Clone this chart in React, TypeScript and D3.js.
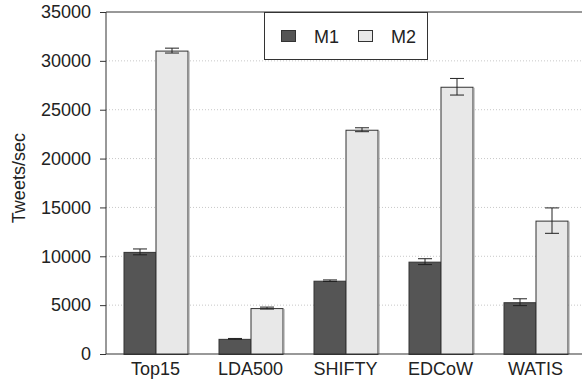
import { useEffect, useRef } from 'react';
import * as d3 from 'd3';

const categories = ['Top15', 'LDA500', 'SHIFTY', 'EDCoW', 'WATIS'];
const seriesNames = ['M1', 'M2'];
const m1Values = [10450, 1550, 7500, 9450, 5300];
const m1Errors = [300, 40, 80, 300, 350];
const m2Values = [31050, 4700, 22950, 27350, 13650];
const m2Errors = [250, 100, 200, 850, 1300];
const yTicks = [0, 5000, 10000, 15000, 20000, 25000, 30000, 35000];

const fills = ['#555555', '#e8e8e8'];

const App = () => {
    const svgRef = useRef<SVGSVGElement>(null);

    useEffect(() => {
        if (!svgRef.current) return;
        d3.select(svgRef.current).selectAll('*').remove();

        const W = 582, H = 382;
        const margin = { top: 12, right: 0, bottom: 28, left: 106 };
        const height = H - margin.top - margin.bottom;

        const svg = d3.select(svgRef.current)
            .attr('width', W)
            .attr('height', H)
            .style('font-family', 'Liberation Sans, Arial, sans-serif');

        const x = d3.scaleBand<string>()
            .domain(categories)
            .range([margin.left + 2, W + 1]);

        const inner = d3.scaleBand<string>()
            .domain(seriesNames)
            .range([0, 64]);

        const y = d3.scaleLinear()
            .domain([0, 35000])
            .range([margin.top + height, margin.top]);

        // grid lines
        svg.append('g')
            .selectAll('line')
            .data(yTicks.filter(t => t > 0 && t < 35000))
            .join('line')
            .attr('x1', margin.left)
            .attr('x2', W)
            .attr('y1', d => y(d))
            .attr('y2', d => y(d))
            .attr('stroke', '#c8c8c8')
            .attr('stroke-dasharray', '1,2');

        // top border
        svg.append('line')
            .attr('x1', margin.left).attr('x2', W)
            .attr('y1', y(35000)).attr('y2', y(35000))
            .attr('stroke', '#333');

        const series = [
            { name: 'M1', values: m1Values, errors: m1Errors },
            { name: 'M2', values: m2Values, errors: m2Errors },
        ];

        series.forEach((s, si) => {
            const g = svg.append('g');
            categories.forEach((c, i) => {
                const bx = x(c)! + x.bandwidth() / 2 - 32 + inner(s.name)!;
                const bw = inner.bandwidth();
                g.append('rect')
                    .attr('x', bx + 0.5)
                    .attr('y', y(s.values[i]) + 0.5)
                    .attr('width', bw)
                    .attr('height', y(0) - y(s.values[i]))
                    .attr('fill', fills[si])
                    .attr('stroke', '#333')
                    .attr('stroke-width', 1);
                // shadow on right edge
                g.append('line')
                    .attr('x1', bx + bw + 1.5).attr('x2', bx + bw + 1.5)
                    .attr('y1', y(s.values[i]) + 1).attr('y2', y(0))
                    .attr('stroke', '#999');
                const cx = bx + bw / 2 + 0.5;
                const hi = y(s.values[i] + s.errors[i]);
                const lo = y(s.values[i] - s.errors[i]);
                g.append('line')
                    .attr('x1', cx).attr('x2', cx)
                    .attr('y1', hi).attr('y2', lo)
                    .attr('stroke', '#222');
                [hi, lo].forEach(yy => {
                    g.append('line')
                        .attr('x1', cx - 7).attr('x2', cx + 7)
                        .attr('y1', yy).attr('y2', yy)
                        .attr('stroke', '#222');
                });
            });
        });

        // y axis
        const yAxis = svg.append('g')
            .attr('transform', `translate(${margin.left},0)`)
            .call(d3.axisLeft(y).tickValues(yTicks).tickSize(6).tickPadding(9).tickFormat(d3.format('d')));
        yAxis.selectAll('text').style('font-size', '18px').attr('fill', '#222');
        yAxis.selectAll('line, path').attr('stroke', '#333');
        yAxis.select('.domain').attr('d', `M0,${y(35000)}V${y(0)}`);

        // x axis
        const xAxis = svg.append('g')
            .attr('transform', `translate(0,${y(0)})`)
            .call(d3.axisBottom(x).tickSize(0).tickPadding(8));
        xAxis.selectAll('text').style('font-size', '18px').attr('fill', '#222');
        xAxis.select('.domain').attr('d', `M${margin.left},0H${W}`).attr('stroke', '#333');

        // y label
        svg.append('text')
            .attr('transform', `translate(25,${y(18000)}) rotate(-90)`)
            .attr('text-anchor', 'middle')
            .style('font-size', '18px')
            .attr('fill', '#222')
            .text('Tweets/sec');

        // legend
        const lg = svg.append('g').attr('transform', 'translate(264,12)');
        lg.append('rect')
            .attr('x', 0.5).attr('y', 0.5)
            .attr('width', 163).attr('height', 47)
            .attr('fill', 'white')
            .attr('stroke', '#333');
        seriesNames.forEach((n, i) => {
            const ox = 17 + i * 77;
            lg.append('rect')
                .attr('x', ox + 0.5).attr('y', 18.5)
                .attr('width', 14).attr('height', 11)
                .attr('fill', fills[i])
                .attr('stroke', '#333');
            lg.append('text')
                .attr('x', ox + 33).attr('y', 31)
                .style('font-size', '18px')
                .attr('fill', '#222')
                .text(n);
        });
    }, []);

    return (
        <div>
            <svg ref={svgRef} style={{ position: 'absolute', left: 0, top: 0 }}></svg>
        </div>
    );
};

export default App;
